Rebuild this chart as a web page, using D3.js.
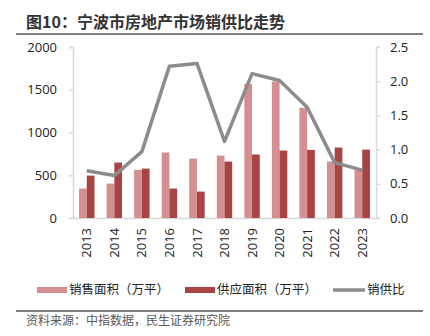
<!DOCTYPE html>
<html>
<head>
<meta charset="utf-8">
<script src="https://cdn.jsdelivr.net/npm/d3@7"></script>
<style>
  body { margin: 0; background: #fff; }
  svg { display: block; font-family: "Open Sans", "Noto Sans CJK SC", sans-serif; }
</style>
</head>
<body>
<div id="chart"></div>
<script>
// data
const years = ['2013', '2014', '2015', '2016', '2017', '2018', '2019', '2020', '2021', '2022', '2023'];
const salesArea = [344, 402, 562, 766, 695, 730, 1570, 1598, 1289, 660, 560];
const supplyArea = [496, 648, 578, 344, 309, 660, 742, 789, 797, 824, 800];
const ratio = [0.69, 0.62, 0.97, 2.22, 2.26, 1.12, 2.11, 2.01, 1.62, 0.81, 0.70];
const leftTicks = [0, 500, 1000, 1500, 2000];
const rightTicks = [0, 0.5, 1.0, 1.5, 2.0, 2.5];

const W = 430, H = 336;
const margin = { top: 47, right: 54, bottom: 118, left: 73 };
const width = W - margin.left - margin.right;
const height = H - margin.top - margin.bottom;

const svg = d3.select('#chart')
    .append('svg')
    .attr('width', W)
    .attr('height', H);

// title + rules
svg.append('text')
    .attr('x', 26)
    .attr('y', 28)
    .style('font-family', '"Noto Sans CJK SC", sans-serif')
    .style('font-size', '16px')
    .style('font-weight', 'bold')
    .style('fill', '#333')
    .text('图10：宁波市房地产市场销供比走势');

svg.append('line')
    .attr('x1', 16).attr('x2', 423)
    .attr('y1', 34).attr('y2', 34)
    .attr('stroke', '#555')
    .attr('stroke-width', 1.5);

svg.append('line')
    .attr('x1', 16).attr('x2', 423)
    .attr('y1', 311).attr('y2', 311)
    .attr('stroke', '#555')
    .attr('stroke-width', 1.5);

svg.append('text')
    .attr('x', 26)
    .attr('y', 325)
    .style('font-family', '"Noto Sans CJK SC", sans-serif')
    .style('font-size', '12px')
    .style('fill', '#595959')
    .text('资料来源：中指数据，民生证券研究院');

const g = svg.append('g')
    .attr('transform', `translate(${margin.left}, ${margin.top})`);

const x = d3.scaleBand()
    .domain(years)
    .range([0, width])
    .paddingInner(0.44)
    .paddingOuter(0.22);

const xSub = d3.scaleBand()
    .domain(['sales', 'supply'])
    .range([0, x.bandwidth()]);

const yL = d3.scaleLinear().domain([0, 2000]).range([height, 0]);
const yR = d3.scaleLinear().domain([0, 2.5]).range([height, 0]);

const axisColor = '#d9d9d9';
const labelColor = '#222';

// left axis
const leftAxis = g.append('g')
    .call(d3.axisLeft(yL).tickValues(leftTicks).tickSize(4).tickPadding(12).tickFormat(d3.format('d')));
// right axis
const rightAxis = g.append('g')
    .attr('transform', `translate(${width}, 0)`)
    .call(d3.axisRight(yR).tickValues(rightTicks).tickSize(4).tickPadding(10).tickFormat(d3.format('.1f')));
// bottom axis
const bottomAxis = g.append('g')
    .attr('transform', `translate(0, ${height})`)
    .call(d3.axisBottom(x).tickSize(0).tickPadding(10));

[leftAxis, rightAxis, bottomAxis].forEach(a => {
    a.select('.domain').attr('stroke', axisColor).attr('stroke-width', 1.5);
    a.selectAll('.tick line').attr('stroke', axisColor).attr('stroke-width', 1.5);
    a.selectAll('text')
        .style('font-family', '"Open Sans", sans-serif')
        .style('font-size', '13px')
        .style('fill', labelColor);
});

bottomAxis.selectAll('text')
    .attr('transform', 'rotate(-90)')
    .attr('text-anchor', 'end')
    .attr('x', -10)
    .attr('y', 0)
    .attr('dy', '0.35em');

// bars
const groups = g.append('g')
    .selectAll('g')
    .data(years)
    .join('g')
    .attr('transform', d => `translate(${x(d)}, 0)`);

groups.append('rect')
    .attr('x', xSub('sales'))
    .attr('width', xSub.bandwidth())
    .attr('y', (d, i) => yL(salesArea[i]))
    .attr('height', (d, i) => height - yL(salesArea[i]))
    .attr('fill', '#d49091');

groups.append('rect')
    .attr('x', xSub('supply'))
    .attr('width', xSub.bandwidth())
    .attr('y', (d, i) => yL(supplyArea[i]))
    .attr('height', (d, i) => height - yL(supplyArea[i]))
    .attr('fill', '#a84443');

// ratio line
const line = d3.line()
    .x((d, i) => x(years[i]) + x.bandwidth() / 2)
    .y(d => yR(d));

g.append('path')
    .datum(ratio)
    .attr('d', line)
    .attr('fill', 'none')
    .attr('stroke', '#8c8c8c')
    .attr('stroke-width', 3.5)
    .attr('stroke-linejoin', 'round');

// legend
const legend = svg.append('g')
    .style('font-family', '"Noto Sans CJK SC", sans-serif')
    .style('font-size', '12.5px');

const items = [
    { label: '销售面积（万平）', color: '#d49091', type: 'rect', x: 37 },
    { label: '供应面积（万平）', color: '#a84443', type: 'rect', x: 185 },
    { label: '销供比', color: '#8c8c8c', type: 'line', x: 333 }
];

items.forEach(it => {
    if (it.type === 'rect') {
        legend.append('rect')
            .attr('x', it.x).attr('y', 287)
            .attr('width', 30).attr('height', 6)
            .attr('fill', it.color);
    } else {
        legend.append('line')
            .attr('x1', it.x).attr('x2', it.x + 32)
            .attr('y1', 290).attr('y2', 290)
            .attr('stroke', it.color)
            .attr('stroke-width', 3.5);
    }
    legend.append('text')
        .attr('x', it.x + (it.type === 'rect' ? 32 : 34))
        .attr('y', 290)
        .attr('dy', '0.35em')
        .style('fill', '#222')
        .text(it.label);
});
</script>
</body>
</html>
